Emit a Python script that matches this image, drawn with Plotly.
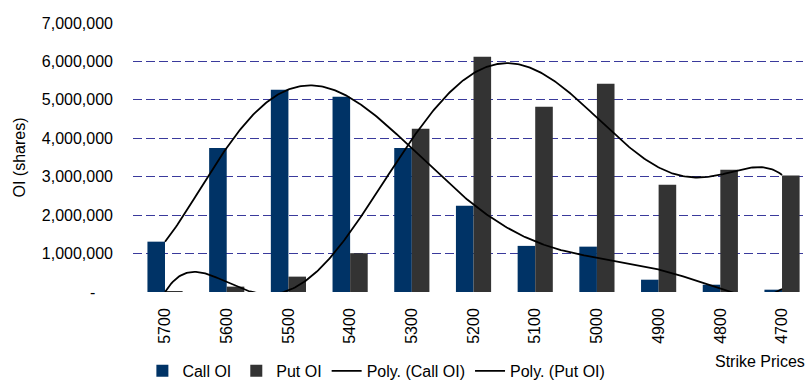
import numpy as np
import plotly.graph_objects as go

# Option open interest by strike price
strikes = ["5700", "5600", "5500", "5400", "5300", "5200", "5100", "5000", "4900", "4800", "4700"]
call_oi = [1310000, 3750000, 5260000, 5080000, 3750000, 2245000, 1200000, 1180000, 320000, 190000, 60000]
put_oi = [15000, 140000, 400000, 1010000, 4250000, 6120000, 4820000, 5420000, 2790000, 3180000, 3030000]

y_ticks = [0, 1000000, 2000000, 3000000, 4000000, 5000000, 6000000, 7000000]
y_tick_text = ["-\u00a0\u00a0\u00a0\u00a0", "1,000,000", "2,000,000", "3,000,000",
               "4,000,000", "5,000,000", "6,000,000", "7,000,000"]

FONT = "Liberation Sans, Arial, sans-serif"
FSIZE = 16
CALL_COLOR = "#003366"
PUT_COLOR = "#333333"
GRID_COLOR = "#3a3a9c"

pos = np.arange(len(strikes))


def poly_trend(values, degree=6, samples=400):
    """Least-squares polynomial trendline over category index 1..n."""
    idx = np.arange(1, len(values) + 1, dtype=float)
    coef = np.polyfit(idx, np.asarray(values, dtype=float), degree)
    xs = np.linspace(1, len(values), samples)
    return xs - 1, np.polyval(coef, xs)


fig = go.Figure()
fig.add_trace(go.Bar(x=pos, y=call_oi, name="Call OI", marker_color=CALL_COLOR,
                     marker_line_width=0))
fig.add_trace(go.Bar(x=pos, y=put_oi, name="Put OI", marker_color=PUT_COLOR,
                     marker_line_width=0))

tx, ty = poly_trend(call_oi)
fig.add_trace(go.Scatter(x=tx, y=ty, mode="lines", name="Poly. (Call OI)",
                         line=dict(color="black", width=1.8)))
tx, ty = poly_trend(put_oi)
fig.add_trace(go.Scatter(x=tx, y=ty, mode="lines", name="Poly. (Put OI)",
                         line=dict(color="black", width=1.8)))

text_font = dict(family=FONT, size=FSIZE, color="black")

fig.update_layout(
    width=809, height=380,
    margin=dict(l=133, r=6, t=23, b=88, autoexpand=False),
    paper_bgcolor="white", plot_bgcolor="white",
    barmode="group", bargap=0.43, bargroupgap=0,
    font=text_font,
    showlegend=True,
    legend=dict(orientation="h", xref="container", yref="container",
                x=0.176, y=0.024, xanchor="left", yanchor="middle",
                font=text_font, itemwidth=30, tracegroupgap=0,
                bgcolor="rgba(0,0,0,0)"),
    annotations=[dict(text="Strike Prices", xref="paper", yref="paper",
                      x=1.006, y=-0.26, xanchor="right", yanchor="middle",
                      showarrow=False, font=text_font)],
)

fig.update_xaxes(
    range=[-0.519, 10.34], tickmode="array", tickvals=list(pos), ticktext=strikes,
    tickangle=-90, showgrid=False, zeroline=False, showline=False, ticks="",
    ticklabelstandoff=12, tickfont=text_font, automargin=False,
)
fig.update_yaxes(
    range=[0, 7000000], tickmode="array", tickvals=y_ticks, ticktext=y_tick_text,
    showgrid=True, gridcolor=GRID_COLOR, gridwidth=1, griddash="9px,4px",
    zeroline=False, showline=False, ticks="", ticklabelstandoff=19,
    tickfont=text_font, automargin=False,
    title=dict(text="OI (shares)", standoff=12, font=text_font),
)

fig.write_html("out.html")
